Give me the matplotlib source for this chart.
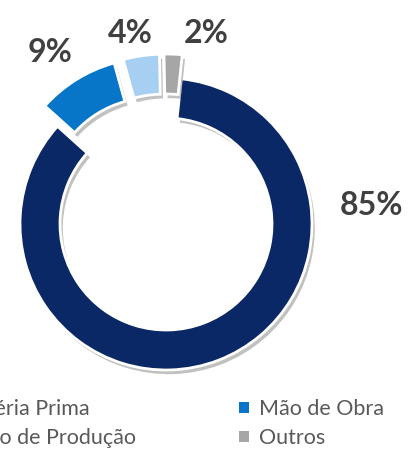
import matplotlib
matplotlib.use("Agg")
import matplotlib.pyplot as plt
import matplotlib.patheffects as pe
from matplotlib.patches import Patch

categories = ["Matéria Prima", "Mão de Obra", "Custo de Produção", "Outros"]
values = [85, 9, 4, 2]
labels = ["85%", "9%", "4%", "2%"]
colors = ["#0a2766", "#0776c8", "#a6cff2", "#a6a6a6"]

W, H = 414, 449
fig = plt.figure(figsize=(W / 100, H / 100), dpi=100)
ax = fig.add_axes([0, 0, 1, 1])

cx, cy, R = 166, 225, 146
wedges, _ = ax.pie(values, colors=colors, startangle=84, counterclock=False,
                   center=(cx, cy), radius=R, explode=[0, 24, 24, 24],
                   wedgeprops=dict(width=40, edgecolor="white", linewidth=2),
                   frame=True)
for w in wedges:
    w.set_path_effects([pe.SimplePatchShadow(offset=(2, -3), shadow_rgbFace="#777777", alpha=0.45),
                        pe.Normal()])
ax.set_xlim(0, W)
ax.set_ylim(0, H)
ax.set_aspect("equal")
ax.axis("off")

lab_pos = [(372, 244), (50, 397), (130, 416), (206, 416)]
for t, (x, y) in zip(labels, lab_pos):
    ax.text(x, y, t, fontsize=23, fontweight="bold", color="#404040",
            family="Lato", ha="center", va="center")

order1 = [0, 2]
order2 = [1, 3]
for order, x0 in [(order1, -64 / W), (order2, 239 / W)]:
    handles = [Patch(facecolor=colors[i], edgecolor="none") for i in order]
    leg = fig.legend(handles, [categories[i] for i in order], loc="upper left",
                     bbox_to_anchor=(x0, 1 - 399 / H), frameon=False,
                     handlelength=0.45, handleheight=0.45, handletextpad=0.5,
                     labelspacing=0.42, borderpad=0, borderaxespad=0,
                     prop=dict(family="Lato", size=15.5))
    for txt in leg.get_texts():
        txt.set_color("#595959")

fig.savefig("out.png", dpi=100)
